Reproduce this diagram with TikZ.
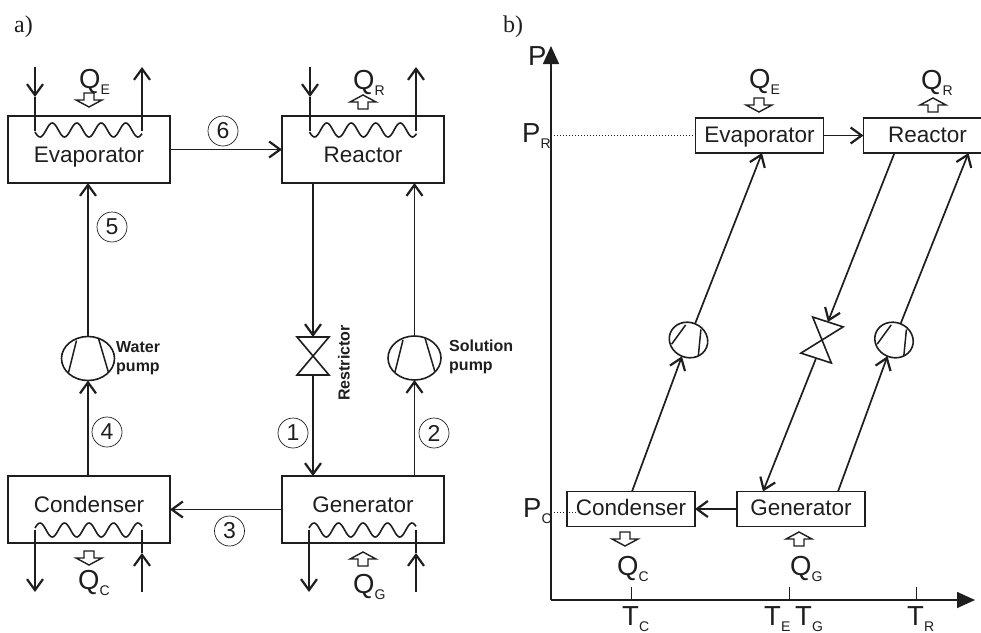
\documentclass[tikz,border=0pt]{standalone}
\usepackage{fontspec}
\setmainfont{Liberation Sans}
\newfontfamily\panelfont{Liberation Serif}
\usetikzlibrary{arrows.meta,positioning,shapes.geometric}
\definecolor{ink}{RGB}{30,30,30}
\newcommand{\qty}[2]{#1\raisebox{-6pt}{\fontsize{14}{14}\selectfont #2}}

\begin{document}
\begin{tikzpicture}[
    x=1pt, y=-1pt,
    color=ink,
    >={Straight Barb[length=11pt,width=16pt,line width=2.2pt]},
    pipe/.style={draw, line width=1.7pt},
    box/.style={draw, line width=1.8pt, outer sep=0pt, inner sep=0pt, font=\fontsize{22.5}{22.5}\selectfont},
    boxa/.style={box, minimum width=162pt, minimum height=67pt},
    boxb/.style={box, minimum width=128pt, minimum height=35pt, text height=13pt, text depth=0pt},
    nr/.style={circle, draw, line width=.7pt, minimum size=30pt, inner sep=0pt, font=\fontsize{23}{23}\selectfont},
    qlab/.style={anchor=base west, inner sep=0pt, font=\fontsize{27.5}{27.5}\selectfont},
    pumpname/.style={anchor=north west, inner sep=0pt, align=left, font=\fontsize{16}{19}\selectfont\bfseries},
    pumpa/.style={ellipse, draw, line width=1.6pt, outer sep=0pt, inner sep=0pt, minimum width=53pt, minimum height=44pt},
    pumpb/.style={ellipse, draw, line width=1.6pt, outer sep=0pt, inner sep=0pt, minimum width=39pt, minimum height=35pt, rotate=-22},
    valvea/.style={rectangle, outer sep=0pt, inner sep=0pt, minimum width=32pt, minimum height=38pt},
    valveb/.style={valvea, rotate=-18},
    blades/.pic={
      \draw[line width=1.5pt] (-11.5,-18) -- (-19.5,14) (10.5,-20) -- (20.5,14);
    },
    bowtie/.pic={
      \draw[line width=1.6pt] (-16,-19) -- (16,-19) -- (-16,19) -- (16,19) -- cycle;
    },
    coil/.pic={
      \draw[line width=1.6pt] plot[domain=0:107,samples=100] (\x,{7*cos(14.694*(\x-5))});
    },
    heat/.pic={
      \draw[line width=1.4pt, fill=white] (-5,-7) -- (5,-7) -- (5,0) -- (13,0) -- (0,7) -- (-13,0) -- (-5,0) -- cycle;
    }
  ]
    \useasboundingbox (0,0) rectangle (981,632);

    % panel a
    \node[anchor=base west, inner sep=0pt, font=\fontsize{24}{24}\selectfont\panelfont] (la) at (14,32) {a)};
    \node[boxa, text height=25pt, text depth=0pt] (evap) at (89,149.5) {Evaporator};
    \node[boxa, text height=25pt, text depth=0pt, right=112pt of evap] (reac) {Reactor};
    \node[boxa, text height=5pt, text depth=0pt, below=293pt of evap] (cond) {Condenser};
    \node[boxa, text height=5pt, text depth=0pt, right=112pt of cond] (gene) {Generator};

    \node[pumpa] (wpump) at (88,358.5) {};
    \node[pumpa] (spump) at (414.5,358) {};
    \node[valvea] (valve) at (313,356) {};
    \pic at (wpump) {blades};
    \pic at (spump) {blades};
    \pic at (valve) {bowtie};
    \node[pumpname] (wname) at (116,341) {Water\\pump};
    \node[pumpname] (sname) at (449,340) {Solution\\pump};
    \node[anchor=center, rotate=90, inner sep=0pt, font=\fontsize{16}{16}\selectfont\bfseries] (vname) at (344,363) {Restrictor};

    \draw[pipe,->] (evap.east) -- (reac.west);
    \draw[pipe,->] (gene.west) -- (cond.east);
    \draw[pipe,->] (reac.south -| valve) -- (valve.north);
    \draw[pipe,->] (valve.south) -- (gene.north -| valve);
    \draw[pipe,->] (gene.north -| spump) -- (spump.south);
    \draw[pipe,->] (spump.north) -- (reac.south -| spump);
    \draw[pipe,->] (cond.north -| wpump) -- (wpump.south);
    \draw[pipe,->] (wpump.north) -- (evap.south -| wpump);

    \node[nr] (n1) at (293,433) {1};
    \node[nr] (n2) at (434,433) {2};
    \node[nr] (n3) at (229.5,531) {3};
    \node[nr] (n4) at (107,432) {4};
    \node[nr] (n5) at (112,227) {5};
    \node[nr] (n6) at (223,131) {6};

    \pic at (35,130) {coil};
    \pic at (309.5,130) {coil};
    \pic[yscale=-1] at (35,530) {coil};
    \pic[yscale=-1] at (309,530) {coil};
    % water circuits with the tip half way
    \foreach \n/\x/\ya/\yb/\yc in {ei/35/67/97/131, ri/310/67/97/131, ci/142/592/553/530, gi/416/592/553/530}{
      \coordinate (\n a) at (\x,\ya);
      \coordinate (\n b) at (\x,\yb);
      \coordinate (\n c) at (\x,\yc);
      \draw[pipe,->] (\n a) -- (\n b);
      \draw[pipe] (\n b) -- (\n c);
    }
    \foreach \n/\x/\ya/\yb in {eo/142/131/67, ro/416/131/67, co/35/530/592, go/309/530/592}{
      \coordinate (\n a) at (\x,\ya);
      \coordinate (\n b) at (\x,\yb);
      \draw[pipe,->] (\n a) -- (\n b);
    }

    \pic at (89,100) {heat};
    \pic[rotate=180] at (363,102) {heat};
    \pic at (89,558) {heat};
    \pic[rotate=180] at (363,559) {heat};
    \node[qlab] (qe) at (79,88) {\qty{Q}{E}};
    \node[qlab] (qr) at (353,89) {\qty{Q}{R}};
    \node[qlab] (qc) at (78,589) {\qty{Q}{C}};
    \node[qlab] (qg) at (353,593) {\qty{Q}{G}};

    % panel b
    \node[anchor=base west, inner sep=0pt, font=\fontsize{24}{24}\selectfont\panelfont] (lb) at (503,32) {b)};
    \coordinate (orig) at (551,600);
    \coordinate (ptop) at (551,46);
    \coordinate (tend) at (975,600);
    \draw[line width=1.6pt, -{Triangle[length=18pt,width=16pt]}] (orig) -- (ptop);
    \draw[line width=1.6pt, -{Triangle[length=18pt,width=16pt]}] (orig) -- (tend);
    \foreach \x in {631,789,916}{
      \draw[line width=.8pt] (\x,587) -- (\x,600);
    }
    \node[qlab] (paxis) at (528,65) {P};
    \node[qlab] (pr) at (522,142) {\qty{P}{R}};
    \node[qlab] (pc) at (523,517) {\qty{P}{C}};
    \node[qlab] (tc) at (622,625.5) {\qty{T}{C}};
    \node[qlab] (te) at (764,625.5) {\qty{T}{E}};
    \node[qlab] (tg) at (795,625.5) {\qty{T}{G}};
    \node[qlab] (tr) at (907,625.5) {\qty{T}{R}};

    \node[boxb] (evapb) at (759.5,135.5) {Evaporator};
    \node[boxb, right=40pt of evapb] (reacb) {Reactor};
    \node[boxb] (condb) at (631,509) {Condenser};
    \node[boxb, right=42pt of condb] (geneb) {Generator};

    \draw[line width=1pt, dotted] ([xshift=3pt]orig |- evapb.west) -- (evapb.west);
    \coordinate (pcdot) at (578,512);
    \draw[line width=1pt, dotted] ([xshift=3pt]orig |- pcdot) -- (pcdot);

    \node[pumpb] (pumpc) at (688.5,340) {};
    \node[pumpb] (pumpg) at (894,340) {};
    \node[valveb] (valveg) at (822,340) {};
    \pic[rotate=-22,scale=.72] at (pumpc) {blades};
    \pic[rotate=-22,scale=.72] at (pumpg) {blades};
    \pic[rotate=-18] at (valveg) {bowtie};

    \draw[pipe,->] (evapb.east) -- (reacb.west);
    \draw[pipe,->] (geneb.west) -- (condb.east);
    \draw[pipe,->] ([xshift=1pt]condb.north) -- (pumpc.south);
    \draw[pipe,->] (pumpc.north) -- ([xshift=2.5pt]evapb.south);
    \draw[pipe,->] ([xshift=37pt]geneb.north) -- (pumpg.south);
    \draw[pipe,->] (pumpg.north) -- ([xshift=41pt]reacb.south);
    \draw[pipe,->] ([xshift=-33pt]reacb.south) -- (valveg.north);
    \draw[pipe,->] (valveg.south) -- ([xshift=-38pt]geneb.north);

    \pic at (759,105) {heat};
    \pic[rotate=180] at (933,105) {heat};
    \pic at (625,539) {heat};
    \pic[rotate=180] at (799,539) {heat};
    \node[qlab] (qeb) at (749,88) {\qty{Q}{E}};
    \node[qlab] (qrb) at (921,89) {\qty{Q}{R}};
    \node[qlab] (qcb) at (617,575) {\qty{Q}{C}};
    \node[qlab] (qgb) at (790,575) {\qty{Q}{G}};
  \end{tikzpicture}
\end{document}
